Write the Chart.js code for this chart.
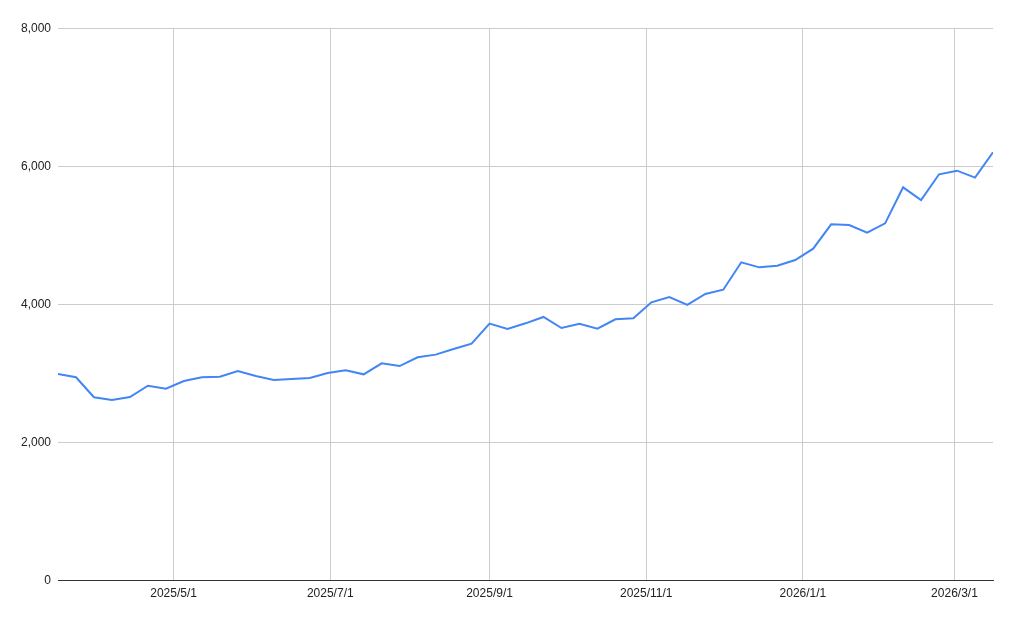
<!DOCTYPE html>
<html>
<head>
<meta charset="utf-8">
<script src="https://cdn.jsdelivr.net/npm/chart.js@4/dist/chart.umd.min.js"></script>
<style>
  html, body { margin: 0; padding: 0; background: #fff; }
  canvas { display: block; }
</style>
</head>
<body>
<canvas id="lineChart" width="1017" height="629"></canvas>
<script>
const fechas = [
  '2025-03-17', '2025-03-24', '2025-03-31', '2025-04-07', '2025-04-14', '2025-04-21', '2025-04-28',
  '2025-05-05', '2025-05-12', '2025-05-19', '2025-05-26', '2025-06-02', '2025-06-09', '2025-06-16',
  '2025-06-23', '2025-06-30', '2025-07-07', '2025-07-14', '2025-07-21', '2025-07-28', '2025-08-04',
  '2025-08-11', '2025-08-18', '2025-08-25', '2025-09-01', '2025-09-08', '2025-09-15', '2025-09-22',
  '2025-09-29', '2025-10-06', '2025-10-13', '2025-10-20', '2025-10-27', '2025-11-03', '2025-11-10',
  '2025-11-17', '2025-11-24', '2025-12-01', '2025-12-08', '2025-12-15', '2025-12-22', '2025-12-29',
  '2026-01-05', '2026-01-12', '2026-01-19', '2026-01-26', '2026-02-02', '2026-02-09', '2026-02-16',
  '2026-02-23', '2026-03-02', '2026-03-09', '2026-03-16'
];

const valores = [
  2986, 2938, 2648, 2609, 2652, 2816, 2773,
  2884, 2938, 2947, 3029, 2957, 2899, 2913,
  2928, 3000, 3040, 2981, 3140, 3101, 3227,
  3266, 3348, 3425, 3715, 3638, 3720, 3812,
  3652, 3715, 3642, 3778, 3792, 4024, 4101,
  3986, 4145, 4207, 4604, 4531, 4555, 4638,
  4802, 5155, 5145, 5034, 5169, 5691, 5507,
  5880, 5932, 5831, 6198
];

const etiquetasX = ['2025/5/1', '2025/7/1', '2025/9/1', '2025/11/1', '2026/1/1', '2026/3/1'];
const ticksY = [0, 2000, 4000, 6000, 8000];

// dias desde epoch, para usar un eje lineal sin adaptador de fechas
function aDia(str) {
  const p = str.split(/[-\/]/).map(Number);
  return Date.UTC(p[0], p[1] - 1, p[2]) / 86400000;
}

const puntos = fechas.map((f, i) => ({ x: aDia(f), y: valores[i] }));
const diasTicks = etiquetasX.map(aDia);

const ctx = document.getElementById('lineChart').getContext('2d');

new Chart(ctx, {
  type: 'line',
  data: {
    datasets: [{
      data: puntos,
      borderColor: '#4285f4',
      borderWidth: 2,
      pointRadius: 0,
      pointHoverRadius: 0,
      tension: 0,
      fill: false
    }]
  },
  options: {
    responsive: false,
    animation: false,
    devicePixelRatio: 1,
    layout: { padding: { top: 28, right: 24, bottom: 0, left: 0 } },
    plugins: {
      legend: { display: false },
      tooltip: { enabled: false }
    },
    scales: {
      x: {
        type: 'linear',
        min: puntos[0].x,
        max: puntos[puntos.length - 1].x,
        afterBuildTicks: scale => {
          scale.ticks = diasTicks.map(v => ({ value: v }));
        },
        afterFit: scale => { scale.height = 49; },
        ticks: {
          autoSkip: false,
          maxRotation: 0,
          padding: 6,
          color: '#222',
          font: { family: 'Liberation Sans, Arial, sans-serif', size: 12 },
          callback: (value) => {
            const i = diasTicks.indexOf(value);
            return i >= 0 ? etiquetasX[i] : '';
          }
        },
        grid: { color: '#cccccc', drawTicks: false, lineWidth: 1 },
        border: { display: true, color: '#333333', width: 1 }
      },
      y: {
        min: 0,
        max: 8000,
        afterBuildTicks: scale => {
          scale.ticks = ticksY.map(v => ({ value: v }));
        },
        afterFit: scale => { scale.width = 58; },
        ticks: {
          padding: 7,
          labelOffset: 1,
          color: '#222',
          font: { family: 'Liberation Sans, Arial, sans-serif', size: 12 },
          callback: value => value.toLocaleString('en-US')
        },
        grid: { color: '#cccccc', drawTicks: false, lineWidth: 1 },
        border: { display: false }
      }
    }
  }
});
</script>
</body>
</html>
